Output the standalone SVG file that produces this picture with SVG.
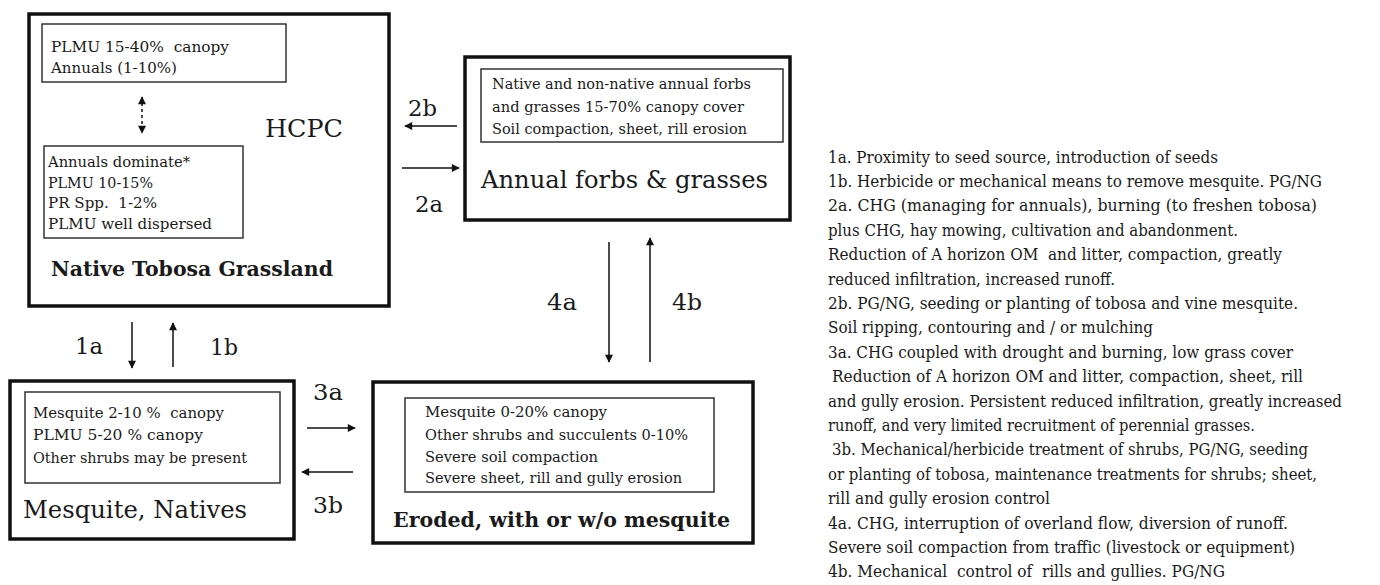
<svg xmlns="http://www.w3.org/2000/svg" width="1380" height="585" viewBox="0 0 1380 585">
<style>
.outer{fill:#fff;stroke:#111;stroke-width:3.5}
.inner{fill:#fff;stroke:#333;stroke-width:1.5}
text{font-family:'DejaVu Serif',serif;fill:#1a1a1a}
.t{font-size:15px}
.head{font-size:24px}
.bold{font-size:20px;font-weight:bold}
.lab{font-size:22px}
.note{font-size:16px}
.arr{stroke:#111;stroke-width:1.5;fill:none}
</style>
<defs>
<marker id="ah" viewBox="0 0 10 10" refX="9" refY="5" markerWidth="9" markerHeight="8" markerUnits="userSpaceOnUse" orient="auto-start-reverse">
<path d="M0,0 L10,5 L0,10 z" fill="#111"/>
</marker>
</defs>
<rect width="1380" height="585" fill="#fff"/>

<g id="native-tobosa">
<rect class="outer" x="29" y="14" width="360" height="292"/>
<rect class="inner" x="42" y="24" width="244" height="58"/>
<text class="t" x="51" y="52" textLength="178" lengthAdjust="spacingAndGlyphs" xml:space="preserve">PLMU 15-40%  canopy</text>
<text class="t" x="51" y="73" textLength="126" lengthAdjust="spacingAndGlyphs">Annuals (1-10%)</text>
<rect class="inner" x="44" y="146" width="199" height="92"/>
<text class="t" x="48" y="167" textLength="142" lengthAdjust="spacingAndGlyphs">Annuals dominate*</text>
<text class="t" x="48" y="188" textLength="105" lengthAdjust="spacingAndGlyphs">PLMU 10-15%</text>
<text class="t" x="48" y="208" textLength="109" lengthAdjust="spacingAndGlyphs" xml:space="preserve">PR Spp.  1-2%</text>
<text class="t" x="48" y="229" textLength="164" lengthAdjust="spacingAndGlyphs">PLMU well dispersed</text>
<text class="head" x="265" y="137" textLength="78" lengthAdjust="spacingAndGlyphs">HCPC</text>
<text class="bold" x="51" y="276" textLength="282" lengthAdjust="spacingAndGlyphs">Native Tobosa Grassland</text>
</g>

<g id="annual-forbs">
<rect class="outer" x="465" y="57" width="325" height="163"/>
<rect class="inner" x="481" y="69" width="302" height="73"/>
<text class="t" x="492" y="89" textLength="259" lengthAdjust="spacingAndGlyphs">Native and non-native annual forbs</text>
<text class="t" x="492" y="112" textLength="252" lengthAdjust="spacingAndGlyphs">and grasses 15-70% canopy cover</text>
<text class="t" x="492" y="134" textLength="255" lengthAdjust="spacingAndGlyphs">Soil compaction, sheet, rill erosion</text>
<text class="head" x="481" y="188" textLength="287" lengthAdjust="spacingAndGlyphs">Annual forbs &amp; grasses</text>
</g>

<g id="mesquite-natives">
<rect class="outer" x="10" y="381" width="284" height="158"/>
<rect class="inner" x="25" y="392" width="255" height="91"/>
<text class="t" x="33" y="418" textLength="191" lengthAdjust="spacingAndGlyphs" xml:space="preserve">Mesquite 2-10 %  canopy</text>
<text class="t" x="33" y="440" textLength="170" lengthAdjust="spacingAndGlyphs">PLMU 5-20 % canopy</text>
<text class="t" x="33" y="463" textLength="214" lengthAdjust="spacingAndGlyphs">Other shrubs may be present</text>
<text class="head" x="23" y="518" textLength="224" lengthAdjust="spacingAndGlyphs">Mesquite, Natives</text>
</g>

<g id="eroded">
<rect class="outer" x="373" y="382" width="380" height="161"/>
<rect class="inner" x="405" y="398" width="309" height="94"/>
<text class="t" x="425" y="417" textLength="182" lengthAdjust="spacingAndGlyphs">Mesquite 0-20% canopy</text>
<text class="t" x="425" y="440" textLength="263" lengthAdjust="spacingAndGlyphs">Other shrubs and succulents 0-10%</text>
<text class="t" x="425" y="462" textLength="173" lengthAdjust="spacingAndGlyphs">Severe soil compaction</text>
<text class="t" x="425" y="483" textLength="257" lengthAdjust="spacingAndGlyphs">Severe sheet, rill and gully erosion</text>
<text class="bold" x="393" y="527" textLength="337" lengthAdjust="spacingAndGlyphs">Eroded, with or w/o mesquite</text>
</g>

<g id="connectors">
<line class="arr" x1="142" y1="97" x2="142" y2="133" stroke-dasharray="3,3" marker-start="url(#ah)" marker-end="url(#ah)"/>
<line class="arr" x1="457" y1="126" x2="405" y2="126" marker-end="url(#ah)"/>
<line class="arr" x1="402" y1="168" x2="459" y2="168" marker-end="url(#ah)"/>
<line class="arr" x1="132" y1="322" x2="132" y2="368" marker-end="url(#ah)"/>
<line class="arr" x1="173" y1="367" x2="173" y2="323" marker-end="url(#ah)"/>
<line class="arr" x1="307" y1="428" x2="355" y2="428" marker-end="url(#ah)"/>
<line class="arr" x1="353" y1="472" x2="302" y2="472" marker-end="url(#ah)"/>
<line class="arr" x1="609" y1="242" x2="609" y2="362" marker-end="url(#ah)"/>
<line class="arr" x1="650" y1="362" x2="650" y2="238" marker-end="url(#ah)"/>
<text class="lab" x="408" y="116" textLength="29" lengthAdjust="spacingAndGlyphs">2b</text>
<text class="lab" x="415" y="212" textLength="28" lengthAdjust="spacingAndGlyphs">2a</text>
<text class="lab" x="75" y="354" textLength="28" lengthAdjust="spacingAndGlyphs">1a</text>
<text class="lab" x="210" y="355" textLength="28" lengthAdjust="spacingAndGlyphs">1b</text>
<text class="lab" x="313" y="400" textLength="30" lengthAdjust="spacingAndGlyphs">3a</text>
<text class="lab" x="313" y="513" textLength="30" lengthAdjust="spacingAndGlyphs">3b</text>
<text class="lab" x="547" y="310" textLength="30" lengthAdjust="spacingAndGlyphs">4a</text>
<text class="lab" x="672" y="310" textLength="30" lengthAdjust="spacingAndGlyphs">4b</text>
</g>

<g id="legend">
<text class="note" x="828" y="162.5" textLength="390" lengthAdjust="spacingAndGlyphs">1a. Proximity to seed source, introduction of seeds</text>
<text class="note" x="828" y="186.9" textLength="494" lengthAdjust="spacingAndGlyphs">1b. Herbicide or mechanical means to remove mesquite. PG/NG</text>
<text class="note" x="828" y="211.3" textLength="489" lengthAdjust="spacingAndGlyphs">2a. CHG (managing for annuals), burning (to freshen tobosa)</text>
<text class="note" x="828" y="235.7" textLength="410" lengthAdjust="spacingAndGlyphs">plus CHG, hay mowing, cultivation and abandonment.</text>
<text class="note" x="828" y="260.1" textLength="454" lengthAdjust="spacingAndGlyphs" xml:space="preserve">Reduction of A horizon OM  and litter, compaction, greatly</text>
<text class="note" x="828" y="284.5" textLength="287" lengthAdjust="spacingAndGlyphs">reduced infiltration, increased runoff.</text>
<text class="note" x="828" y="308.9" textLength="470" lengthAdjust="spacingAndGlyphs">2b. PG/NG, seeding or planting of tobosa and vine mesquite.</text>
<text class="note" x="828" y="333.3" textLength="325" lengthAdjust="spacingAndGlyphs">Soil ripping, contouring and / or mulching</text>
<text class="note" x="828" y="357.7" textLength="465" lengthAdjust="spacingAndGlyphs">3a. CHG coupled with drought and burning, low grass cover</text>
<text class="note" x="832" y="382.1" textLength="471" lengthAdjust="spacingAndGlyphs">Reduction of A horizon OM and litter, compaction, sheet, rill</text>
<text class="note" x="828" y="406.5" textLength="514" lengthAdjust="spacingAndGlyphs">and gully erosion. Persistent reduced infiltration, greatly increased</text>
<text class="note" x="828" y="430.9" textLength="427" lengthAdjust="spacingAndGlyphs">runoff, and very limited recruitment of perennial grasses.</text>
<text class="note" x="832" y="455.3" textLength="476" lengthAdjust="spacingAndGlyphs">3b. Mechanical/herbicide treatment of shrubs, PG/NG, seeding</text>
<text class="note" x="828" y="479.7" textLength="489" lengthAdjust="spacingAndGlyphs">or planting of tobosa, maintenance treatments for shrubs; sheet,</text>
<text class="note" x="828" y="504.1" textLength="222" lengthAdjust="spacingAndGlyphs">rill and gully erosion control</text>
<text class="note" x="828" y="528.5" textLength="460" lengthAdjust="spacingAndGlyphs">4a. CHG, interruption of overland flow, diversion of runoff.</text>
<text class="note" x="828" y="552.9" textLength="467" lengthAdjust="spacingAndGlyphs">Severe soil compaction from traffic (livestock or equipment)</text>
<text class="note" x="828" y="577.3" textLength="397" lengthAdjust="spacingAndGlyphs" xml:space="preserve">4b. Mechanical  control of  rills and gullies. PG/NG</text>
</g>
</svg>
